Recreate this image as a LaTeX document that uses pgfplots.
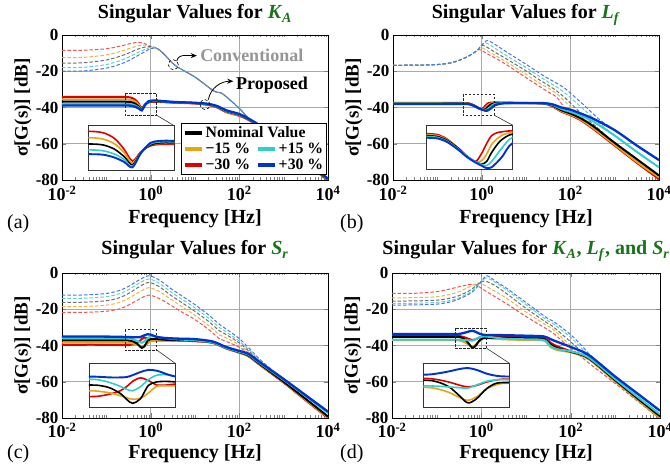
\documentclass[border=0pt]{standalone}
\usepackage{fontspec}
\setmainfont{Liberation Serif}
\usepackage{pgfplots}
\usepackage{pgfplotstable}
\pgfplotsset{compat=1.18}
\usetikzlibrary{arrows.meta}

\definecolor{cred}{RGB}{222,0,0}
\definecolor{corange}{RGB}{232,163,23}
\definecolor{ccyan}{RGB}{50,205,205}
\definecolor{cblue}{RGB}{0,50,205}
\definecolor{dred}{RGB}{235,85,85}
\definecolor{dorange}{RGB}{240,180,70}
\definecolor{dgrey}{RGB}{110,110,110}
\definecolor{dcyan}{RGB}{90,210,210}
\definecolor{dblue}{RGB}{70,120,225}
\definecolor{cgreen}{RGB}{25,115,25}
\definecolor{cgrid}{RGB}{170,170,170}
\definecolor{cconv}{RGB}{150,150,150}

\pgfplotstableread{
u r o k c b
-2 -34.2 -35.5 -36.8 -38.0 -38.9
-1 -34.2 -35.5 -36.8 -38.0 -38.9
-0.6 -34.2 -35.5 -36.8 -38.0 -38.9
-0.45 -34.5 -35.8 -37.0 -38.2 -39.0
-0.35 -35.7 -36.8 -37.9 -38.9 -39.6
-0.27 -37.9 -38.6 -39.4 -40.0 -40.5
-0.2 -40.3 -40.7 -41.1 -41.4 -41.6
-0.13 -38.4 -38.5 -38.6 -38.7 -38.7
-0.05 -37.2 -37.0 -37.0 -36.8 -36.6
0.03 -36.9 -36.7 -36.6 -36.4 -36.2
0.15 -36.9 -36.7 -36.6 -36.4 -36.2
0.5 -37.3 -37.2 -37.1 -37.0 -36.9
1.0 -37.8 -37.7 -37.6 -37.5 -37.4
1.3 -38.6 -38.5 -38.3 -38.2 -38.0
1.5 -40.0 -39.8 -39.6 -39.4 -39.2
1.7 -42.5 -42.3 -42.0 -41.8 -41.5
2.0 -44.6 -44.4 -44.1 -43.9 -43.6
2.2 -46.8 -46.6 -46.4 -46.2 -46.0
2.5 -51.5 -51.3 -51.0 -50.8 -50.5
3.0 -60.5 -60.3 -60.0 -59.8 -59.5
3.5 -70.4 -70.2 -69.9 -69.7 -69.4
4.0 -80.4 -80.2 -79.9 -79.6 -79.3
}\Asol
\pgfplotstableread{
u r o k c b
-2 -8.5 -12.5 -15.5 -18.0 -20.0
-1.5 -8.4 -12.3 -15.3 -17.8 -19.8
-1.0 -7.6 -11.0 -13.8 -16.3 -18.3
-0.7 -6.2 -9.2 -11.8 -14.2 -16.2
-0.5 -5.0 -7.6 -10.0 -12.2 -14.2
-0.3 -4.1 -6.0 -7.9 -9.8 -11.5
-0.15 -4.6 -5.6 -6.8 -8.2 -9.5
0.0 -6.2 -6.3 -6.4 -6.8 -7.5
0.15 -7.6 -7.5 -7.4 -7.4 -7.5
0.3 -10.5 -10.5 -10.5 -10.5 -10.5
0.56 -16.9 -16.9 -16.9 -16.9 -16.9
1.0 -23.2 -23.2 -23.2 -23.2 -23.2
1.37 -30.0 -30.0 -30.0 -30.0 -30.0
1.5 -31.6 -31.6 -31.6 -31.6 -31.6
1.63 -32.6 -32.6 -32.6 -32.6 -32.6
2.0 -40.5 -40.5 -40.5 -40.5 -40.5
2.22 -46.2 -46.2 -46.2 -46.2 -46.2
2.5 -51.0 -51.0 -51.0 -51.0 -51.0
3.0 -59.8 -59.8 -59.8 -59.8 -59.8
4.0 -79.6 -79.6 -79.6 -79.6 -79.6
}\Adas
\pgfplotstableread{
u r o k c b
-2 -37.5 -37.6 -37.8 -37.9 -38.05
-1 -37.5 -37.6 -37.8 -37.9 -38.05
-0.39 -37.54 -37.67 -37.8 -37.9 -38.05
-0.25 -38.0 -38.1 -38.2 -38.3 -38.4
-0.14 -39.3 -39.3 -39.3 -39.4 -39.5
-0.07 -40.3 -40.3 -40.3 -40.3 -40.4
0.0 -41.0 -41.05 -41.0 -41.0 -41.1
0.05 -40.0 -40.9 -41.3 -41.35 -41.5
0.09 -38.8 -40.1 -41.0 -41.5 -41.8
0.13 -37.8 -38.9 -39.9 -41.0 -41.7
0.18 -37.4 -38.1 -38.8 -40.0 -41.0
0.22 -37.3 -37.7 -38.2 -39.2 -40.3
0.3 -37.2 -37.4 -37.6 -38.0 -38.7
0.5 -37.3 -37.4 -37.5 -37.6 -37.7
1.0 -37.5 -37.6 -37.6 -37.6 -37.5
1.4 -37.8 -37.8 -37.8 -37.7 -37.6
1.6 -39.5 -39.3 -39.0 -38.7 -38.3
1.8 -42.3 -42.0 -41.5 -40.8 -40.0
2.0 -44.2 -43.9 -43.3 -42.4 -41.2
2.2 -46.5 -46.1 -45.5 -44.2 -43.0
2.5 -51.5 -51.0 -50.0 -47.5 -46.0
3.0 -61.0 -60.5 -59.5 -55.5 -52.5
3.5 -70.5 -70.0 -68.5 -64.5 -61.0
4.0 -79.5 -78.5 -77.5 -73.0 -69.0
}\Bsol
\pgfplotstableread{
u r o k c b
-2 -16.7 -16.7 -16.7 -16.7 -16.7
-1.5 -16.65 -16.65 -16.65 -16.65 -16.65
-1.0 -16.3 -16.3 -16.3 -16.3 -16.3
-0.7 -15.4 -15.4 -15.4 -15.4 -15.4
-0.5 -13.9 -13.9 -13.9 -13.9 -13.9
-0.3 -11.7 -11.7 -11.7 -11.7 -11.7
-0.15 -9.4 -9.4 -9.4 -9.4 -9.4
-0.08 -8.0 -8.1 -8.1 -8.1 -8.1
-0.03 -8.2 -6.9 -6.5 -6.4 -6.3
0.02 -8.8 -7.2 -5.7 -5.2 -5.0
0.08 -9.7 -8.0 -6.1 -4.3 -3.8
0.14 -10.6 -8.9 -7.0 -4.8 -3.0
0.3 -12.6 -11.2 -9.5 -7.3 -5.2
0.6 -17.0 -15.5 -13.8 -12.0 -10.0
1.0 -23.5 -21.7 -19.8 -18.0 -16.1
1.3 -28.3 -26.5 -24.7 -22.8 -21.0
1.5 -31.4 -29.2 -27.7 -25.9 -24.0
1.7 -34.5 -32.5 -31.0 -28.8 -26.7
1.87 -40.3 -36.5 -34.5 -31.8 -29.3
2.0 -44.0 -39.5 -37.5 -34.5 -32.0
2.3 -48.0 -46.0 -44.5 -41.0 -38.5
2.65 -54.0 -53.0 -52.0 -48.5 -46.5
3.0 -61.0 -60.5 -59.5 -55.5 -52.5
4.0 -79.5 -78.5 -77.5 -73.0 -69.0
}\Bdas
\pgfplotstableread{
u r o k c b
-2 -39.6 -38.4 -37.2 -35.8 -35.0
-1 -39.6 -38.4 -37.2 -35.8 -35.1
-0.55 -39.8 -38.5 -37.2 -35.9 -35.3
-0.45 -39.6 -38.7 -37.4 -36.2 -35.4
-0.38 -39.2 -39.0 -37.9 -36.7 -35.5
-0.3 -38.5 -39.6 -39.1 -37.5 -35.5
-0.245 -37.5 -40.1 -40.5 -38.2 -35.4
-0.2 -36.4 -40.4 -41.3 -38.5 -35.0
-0.135 -35.6 -40.2 -40.3 -37.6 -34.3
-0.07 -36.2 -39.0 -37.3 -36.0 -33.8
0.0 -37.2 -37.5 -36.5 -35.0 -34.0
0.085 -37.2 -37.4 -36.4 -34.9 -34.8
0.15 -37.0 -37.4 -36.5 -35.2 -35.3
0.3 -37.2 -37.4 -36.8 -35.9 -35.8
0.6 -37.3 -37.4 -37.1 -36.6 -36.2
1.0 -37.6 -37.6 -37.4 -37.2 -36.5
1.4 -38.5 -38.6 -38.4 -38.3 -37.8
1.7 -41.6 -41.6 -41.4 -41.3 -40.8
2.0 -44.0 -43.9 -43.7 -43.5 -43.0
2.2 -45.8 -45.6 -45.4 -45.0 -44.5
2.45 -50.5 -50.3 -50.0 -49.5 -49.0
3.0 -60.5 -60.3 -60.0 -59.0 -58.5
3.5 -70.3 -70.0 -69.5 -68.0 -67.5
4.0 -80.0 -79.7 -79.2 -77.3 -76.5
}\Csol
\pgfplotstableread{
u r o k c b
-2 -21.8 -18.6 -16.2 -14.0 -12.2
-1.5 -21.7 -18.5 -16.1 -13.9 -12.1
-1.0 -21.1 -17.8 -15.3 -13.1 -11.3
-0.7 -19.8 -16.2 -13.6 -11.4 -9.6
-0.5 -17.7 -14.0 -11.3 -9.2 -7.4
-0.3 -15.0 -11.1 -8.2 -6.2 -4.4
-0.15 -13.0 -9.0 -6.1 -4.2 -2.4
-0.04 -12.2 -8.1 -5.2 -3.3 -1.5
0.1 -13.1 -9.1 -6.3 -4.4 -2.6
0.25 -14.8 -11.0 -8.5 -6.6 -4.8
0.45 -17.7 -14.4 -12.2 -10.3 -8.5
0.7 -21.5 -18.5 -16.3 -14.4 -12.6
0.96 -25.1 -22.7 -20.5 -18.6 -16.8
1.3 -31.0 -28.8 -26.6 -24.8 -23.0
1.56 -36.5 -34.3 -32.1 -30.3 -28.5
1.65 -37.2 -35.2 -33.2 -31.6 -30.0
2.0 -41.0 -39.7 -38.6 -37.6 -36.2
2.3 -46.0 -45.5 -45.0 -44.3 -43.5
2.5 -50.5 -50.3 -49.8 -49.2 -48.5
3.0 -60.5 -60.3 -60.0 -59.0 -58.5
4.0 -80.0 -79.7 -79.2 -77.3 -76.5
}\Cdas
\pgfplotstableread{
u r o k c b
-2 -34.7 -37.1 -35.2 -36.7 -33.7
-1 -34.7 -37.1 -35.2 -36.7 -33.7
-0.56 -34.7 -37.1 -35.2 -36.7 -33.7
-0.45 -35.0 -37.5 -35.6 -36.8 -33.4
-0.35 -35.7 -38.5 -37.0 -37.0 -32.8
-0.27 -36.5 -39.8 -39.3 -37.2 -32.2
-0.2 -37.0 -40.6 -41.3 -37.3 -31.9
-0.13 -36.6 -39.7 -40.2 -36.5 -32.4
-0.05 -35.7 -37.6 -37.5 -35.5 -33.4
0.03 -35.1 -36.4 -36.0 -35.1 -34.0
0.13 -34.9 -36.0 -35.8 -35.1 -34.2
0.5 -35.1 -36.6 -35.7 -36.2 -34.3
1.0 -35.5 -37.0 -36.1 -36.6 -34.6
1.4 -35.8 -37.3 -36.5 -37.0 -35.0
1.55 -38.5 -40.8 -39.5 -40.3 -36.5
1.7 -40.5 -42.5 -41.5 -42.0 -38.0
2.0 -43.2 -43.8 -43.4 -43.2 -40.8
2.4 -47.2 -47.5 -47.0 -46.6 -45.2
3.0 -59.6 -59.8 -59.2 -58.6 -57.2
3.5 -69.8 -69.9 -69.2 -68.4 -66.6
4.0 -80.0 -80.0 -79.0 -78.0 -76.0
}\Dsol
\pgfplotstableread{
u r o k c b
-2 -11.3 -13.7 -15.5 -16.8 -17.7
-1.5 -11.2 -13.6 -15.4 -16.7 -17.6
-1.0 -10.3 -13.1 -15.0 -16.2 -17.2
-0.7 -8.8 -11.8 -13.9 -15.2 -16.0
-0.5 -7.6 -10.3 -12.5 -13.7 -14.4
-0.3 -6.5 -8.0 -10.2 -11.3 -12.0
-0.2 -6.3 -6.8 -8.6 -9.7 -10.5
-0.12 -6.6 -5.8 -7.0 -7.8 -8.5
-0.05 -7.6 -5.5 -5.6 -6.0 -6.3
0.05 -9.2 -6.5 -4.5 -3.5 -3.0
0.13 -10.5 -7.6 -4.8 -2.7 -1.5
0.3 -13.0 -10.0 -6.8 -5.0 -4.2
0.6 -17.5 -14.5 -12.0 -10.0 -9.0
1.0 -24.0 -21.5 -19.5 -17.5 -16.3
1.47 -31.0 -29.0 -27.5 -26.0 -24.8
1.6 -33.0 -31.0 -29.5 -27.8 -26.5
2.0 -41.5 -40.0 -38.0 -35.5 -34.0
2.3 -47.5 -45.8 -44.5 -43.0 -41.5
2.45 -50.5 -48.5 -47.5 -46.5 -45.5
3.0 -61.0 -60.0 -59.3 -58.6 -57.2
4.0 -80.5 -80.0 -79.0 -78.0 -76.0
}\Ddas

\pgfplotsset{
  myMain/.style={
    scale only axis, width=266pt, height=145pt, anchor=south west,
    xmin=0.01, xmax=10000, ymin=-80, ymax=0,
    xtick={0.01,1,100,10000},
    xticklabels={{10\textsuperscript{-2}},{10\textsuperscript{0}},{10\textsuperscript{2}},{10\textsuperscript{4}}},
    minor xtick={0.02,0.03,0.04,0.05,0.06,0.07,0.08,0.09,0.1,0.2,0.3,0.4,0.5,0.6,0.7,0.8,0.9,2,3,4,5,6,7,8,9,10,20,30,40,50,60,70,80,90,200,300,400,500,600,700,800,900,1000,2000,3000,4000,5000,6000,7000,8000,9000},
    ytick={-80,-60,-40,-20,0},
    yticklabels={-80,-60,-40,-20,0},
    tick align=inside,
    major tick length=4.5pt, minor tick length=2.5pt,
    xmajorgrids, ymajorgrids,
    major grid style={draw=cgrid, line width=0.8pt},
    axis line style={line width=0.8pt},
    xticklabel style={font=\fontsize{18}{18}\selectfont\bfseries, anchor=base},
    yticklabel style={font=\fontsize{17}{17}\selectfont\bfseries},
    xlabel={Frequency [Hz]},
    ylabel={σ[G(s)] [dB]},
    xlabel style={font=\fontsize{20}{20}\selectfont\bfseries, anchor=base},
    ylabel style={font=\fontsize{19}{19}\selectfont\bfseries, at={([xshift=-39pt]axis description cs:0,0.5)}, anchor=center},
    title style={font=\fontsize{20}{20}\selectfont\bfseries, anchor=base},
  },
  myTop/.style={
    xticklabel style={yshift=-21pt},
    xlabel style={at={([yshift=-44pt]axis description cs:0.5,0)}},
    title style={at={([yshift=10pt]axis description cs:0.5,1)}},
  },
  myBot/.style={
    xticklabel style={yshift=-20pt},
    xlabel style={at={([yshift=-41pt]axis description cs:0.5,0)}},
    title style={at={([yshift=12pt]axis description cs:0.5,1)}},
  },
  myInset/.style={
    scale only axis, width=86pt, height=44.5pt, anchor=south west,
    xtick=\empty, ytick=\empty,
    major tick length=0pt, minor tick length=0pt,
    axis line style={line width=0.9pt, draw=black!80},
    axis background/.style={fill=white},
  },
}
\tikzset{
  mySol/.style={smooth, tension=0.5},
  myDas/.style={line width=1pt, dash pattern=on 3.5pt off 2pt, smooth, tension=0.5},
  zoombox/.style={dash pattern=on 2.5pt off 1.5pt, line width=0.7pt, black!85},
}

\newcommand{\soldraw}[2]{%
  \addplot[forget plot, mySol, line width=#2, cred] table[x expr={10^(\thisrow{u})}, y=r]{#1};
  \addplot[forget plot, mySol, line width=#2, corange] table[x expr={10^(\thisrow{u})}, y=o]{#1};
  \addplot[forget plot, mySol, line width=#2, black] table[x expr={10^(\thisrow{u})}, y=k]{#1};
  \addplot[forget plot, mySol, line width=#2, ccyan] table[x expr={10^(\thisrow{u})}, y=c]{#1};
  \addplot[forget plot, mySol, line width=#2+0.3pt, cblue] table[x expr={10^(\thisrow{u})}, y=b]{#1};
}
\newcommand{\dasdraw}[1]{%
  \addplot[forget plot, myDas, dred] table[x expr={10^(\thisrow{u})}, y=r]{#1};
  \addplot[forget plot, myDas, dorange] table[x expr={10^(\thisrow{u})}, y=o]{#1};
  \addplot[forget plot, myDas, dgrey] table[x expr={10^(\thisrow{u})}, y=k]{#1};
  \addplot[forget plot, myDas, dcyan] table[x expr={10^(\thisrow{u})}, y=c]{#1};
  \addplot[forget plot, myDas, dblue] table[x expr={10^(\thisrow{u})}, y=b]{#1};
}

\begin{document}
\begin{tikzpicture}

\begin{axis}[xmode=log, myMain, myTop, at={(62pt,285pt)},
  title={Singular Values for \textcolor{cgreen}{\textit{K}\textsubscript{\textit{A}}}},
  legend columns=2, legend cell align=left,
  legend style={at={(axis description cs:1,0)}, anchor=south east, xshift=-1pt, yshift=5pt,
    draw=black, line width=0.8pt, fill=white,
    font=\fontsize{15.8}{16}\selectfont\bfseries,
    inner xsep=2pt, inner ysep=2pt, row sep=1.6pt,
    nodes={inner sep=1.3pt},
    /tikz/every even column/.append style={column sep=5pt}},
  legend image code/.code={\draw[line width=4pt] (0pt,0pt) -- (17pt,0pt);},
]
\dasdraw{\Adas}
\soldraw{\Asol}{2pt}
\draw[zoombox] (axis cs:0.264,-32.4) rectangle (axis cs:1.368,-44.3);
\draw[densely dashed, line width=0.6pt] (axis cs:3.24,-16.4) circle[radius=5pt];
\draw[line width=0.8pt, -{Stealth[length=6pt,width=5pt]}] (axis cs:3.87,-14.5) to[out=80,in=180] (axis cs:10.97,-11.4);
\node[anchor=base west, text=cconv, font=\fontsize{18}{18}\selectfont\bfseries, inner sep=0pt] at (axis cs:13.0,-14.5) {Conventional};
\draw[densely dashed, line width=0.6pt] (axis cs:16.8,-38.4) circle[radius=5pt];
\draw[line width=0.8pt, -{Stealth[length=6pt,width=5pt]}] (axis cs:20.0,-35.7) to[out=80,in=180] (axis cs:73.1,-25.5);
\node[anchor=base west, font=\fontsize{18}{18}\selectfont\bfseries, inner sep=0pt] at (axis cs:84.1,-30.2) {Proposed};
\addlegendimage{black}\addlegendentry{\makebox[0pt][l]{Nominal Value}}
\addlegendimage{empty legend}\addlegendentry{}
\addlegendimage{corange}\addlegendentry{−15 \%}
\addlegendimage{ccyan}\addlegendentry{+15 \%}
\addlegendimage{cred}\addlegendentry{−30 \%}
\addlegendimage{cblue}\addlegendentry{+30 \%}
\end{axis}
\begin{axis}[xmode=log, myInset, at={(88.3pt,294.7pt)}, xmin=0.2692, xmax=1.4125, ymin=-42.2, ymax=-33.1]
\soldraw{\Asol}{1.6pt}
\end{axis}
\draw[line width=0.6pt, black!80] (156.7pt,349.7pt) -- (174.3pt,339.2pt);

\begin{axis}[xmode=log, myMain, myTop, at={(393pt,285pt)},
  title={Singular Values for \textcolor{cgreen}{\textit{L}\textsubscript{\textit{f}}}}]
\dasdraw{\Bdas}
\soldraw{\Bsol}{2pt}
\draw[zoombox] (axis cs:0.380,-32.6) rectangle (axis cs:1.888,-44.3);
\end{axis}
\begin{axis}[xmode=log, myInset, at={(426.7pt,295.3pt)}, xmin=0.4074, xmax=1.9953, ymin=-42.0, ymax=-36.5]
\soldraw{\Bsol}{1.6pt}
\end{axis}
\draw[line width=0.6pt, black!80] (494.3pt,349.7pt) -- (512.7pt,339.8pt);

\begin{axis}[xmode=log, myMain, myBot, at={(62pt,47pt)}, height=145pt,
  title={Singular Values for \textcolor{cgreen}{\textit{S}\textsubscript{\textit{r}}}}]
\dasdraw{\Cdas}
\soldraw{\Csol}{2pt}
\draw[zoombox] (axis cs:0.264,-31.3) rectangle (axis cs:1.368,-42.8);
\end{axis}
\begin{axis}[xmode=log, myInset, at={(89pt,57.3pt)}, xmin=0.2780, xmax=1.4060, ymin=-42.3, ymax=-32.3]
\soldraw{\Csol}{1.6pt}
\end{axis}
\draw[line width=0.6pt, black!80] (156.7pt,115pt) -- (175pt,101.8pt);

\begin{axis}[xmode=log, myMain, myBot, at={(392pt,47pt)}, height=145pt, width=268pt,
  title={Singular Values for \textcolor{cgreen}{\textit{K}\textsubscript{\textit{A}}, \textit{L}\textsubscript{\textit{f}}, and \textit{S}\textsubscript{\textit{r}}}}]
\dasdraw{\Ddas}
\soldraw{\Dsol}{2pt}
\draw[zoombox] (axis cs:0.267,-30.4) rectangle (axis cs:1.318,-41.8);
\end{axis}
\begin{axis}[xmode=log, myInset, at={(423.3pt,57.3pt)}, xmin=0.2767, xmax=1.3614, ymin=-42.6, ymax=-30.6]
\soldraw{\Dsol}{1.6pt}
\end{axis}
\draw[line width=0.6pt, black!80] (486.7pt,116.7pt) -- (509.3pt,101.8pt);

\node[anchor=base west, inner sep=0pt, font=\fontsize{20}{20}\selectfont] at (7pt,236pt) {(a)};
\node[anchor=base west, inner sep=0pt, font=\fontsize{20}{20}\selectfont] at (340pt,236pt) {(b)};
\node[anchor=base west, inner sep=0pt, font=\fontsize{20}{20}\selectfont] at (7pt,6pt) {(c)};
\node[anchor=base west, inner sep=0pt, font=\fontsize{20}{20}\selectfont] at (340pt,6pt) {(d)};

\pgfresetboundingbox
\path[use as bounding box] (0pt,0pt) rectangle (670pt,465pt);
\end{tikzpicture}
\end{document}
